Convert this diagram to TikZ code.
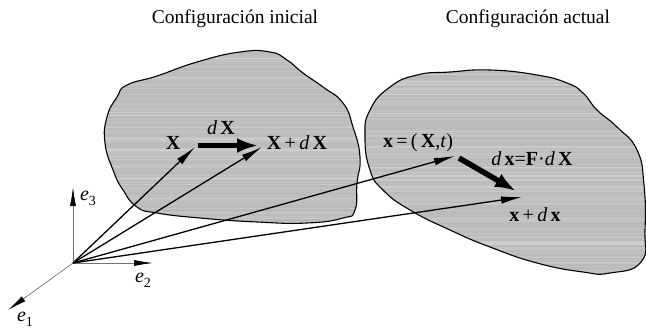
\documentclass[tikz,border=0pt]{standalone}
\usepackage{fontspec}
\setmainfont{Liberation Serif}
\usetikzlibrary{arrows.meta}

\newcommand{\idx}[1]{\raisebox{-0.55ex}{\fontsize{14}{14}\selectfont #1}}

\tikzset{
  lbl/.style={font=\fontsize{20}{23}\selectfont, inner sep=0pt},
  ttl/.style={font=\fontsize{19.5}{22}\selectfont, inner sep=0pt},
  axis/.style={black!55, line width=0.7pt, -{Latex[length=19pt,width=6pt,color=black]}},
  posvec/.style={line width=1.3pt, -{Latex[length=21pt,width=7.5pt]}},
  fatarrow/.style={line width=5.5pt, -{Latex[length=21pt,width=15pt]}},
  blob/.style={draw=black, line width=1.1pt},
}

% outlines of the two bodies
\def\blobinit{plot[smooth cycle, tension=0.85] coordinates {
  (240,52) (270,52) (287,60) (303,73) (323,87) (343,103) (353,127) (360,157)
  (357,183) (355,210) (343,218) (307,223) (257,222) (200,218) (157,213)
  (137,207) (123,190) (113,170) (105,143) (107,117) (117,97) (127,85)
  (157,76) (197,62)}}
\def\blobcurr{plot[smooth cycle, tension=0.85] coordinates {
  (417,75) (450,72) (490,70) (537,75) (567,83) (583,93) (597,110) (617,127)
  (637,150) (644,185) (645,230) (641,262) (610,273) (583,272) (537,263)
  (490,247) (450,230) (410,210) (383,190) (370,170) (365,137) (370,110)
  (390,87)}}

\begin{document}
\begin{tikzpicture}[x=1pt,y=-1pt]
    \useasboundingbox (0,0) rectangle (646,330);
    \pgfmathsetseed{11}

    % 1. Titles
    \node[ttl, anchor=base] (tinit) at (235,23) {Configuración inicial};
    \node[ttl, anchor=base] (tcurr) at (528,23) {Configuración actual};

    % 2. Bodies (grey fill with horizontal streaks)
    \fill[black!27] \blobinit;
    \fill[black!27] \blobcurr;
    \begin{scope}
        \clip \blobinit;
        \foreach \y in {50,51,...,226}{
            \pgfmathsetmacro\op{0.4*rnd*rnd}
            \draw[white, opacity=\op, line width=0.7pt] (100,\y) -- (366,\y);
        }
    \end{scope}
    \begin{scope}
        \clip \blobcurr;
        \foreach \y in {68,69,...,276}{
            \pgfmathsetmacro\op{0.4*rnd*rnd}
            \draw[white, opacity=\op, line width=0.7pt] (360,\y) -- (646,\y);
        }
    \end{scope}
    \draw[blob] \blobinit;
    \draw[blob] \blobcurr;

    % 3. Base vectors
    \coordinate (O) at (73,263);
    \coordinate (E1) at (8,310);
    \coordinate (E2) at (153,263);
    \coordinate (E3) at (73,187);
    \draw[axis] (O) -- (E1);
    \draw[axis] (O) -- (E2);
    \draw[axis] (O) -- (E3);
    \node[lbl] (le1) at (25,319) {\textit{e}\idx{1}};
    \node[lbl] (le2) at (143,280) {\textit{e}\idx{2}};
    \node[lbl] (le3) at (88,198) {\textit{e}\idx{3}};

    % 4. Position vectors
    \coordinate (P) at (195,147);
    \coordinate (Q) at (262,147);
    \coordinate (p) at (455,156);
    \coordinate (q) at (522,197);
    \draw[posvec] (O) -- (P);
    \draw[posvec] (O) -- (Q);
    \draw[posvec] (O) -- (p);
    \draw[posvec] (O) -- (q);

    % 5. Material and spatial line elements
    \coordinate (dXa) at (198,145.5);
    \coordinate (dXb) at (258,145.5);
    \coordinate (dxa) at (459,158);
    \coordinate (dxb) at (516,191);
    \draw[fatarrow] (dXa) -- (dXb);
    \draw[fatarrow] (dxa) -- (dxb);

    % 6. Labels
    \node[lbl] (lX) at (173,143) {\textbf{X}};
    \node[lbl] (ldX) at (221,128) {\textit{d}\,\textbf{X}};
    \node[lbl] (lXdX) at (297,143) {\textbf{X}\,+\,\textit{d}\,\textbf{X}};
    \node[lbl] (lx) at (418,143) {\textbf{x}\,=\,(\,\textbf{X},\textit{t})};
    \node[lbl] (ldx) at (532,159) {\textit{d}\,\textbf{x}=\textbf{F}·\textit{d}\,\textbf{X}};
    \node[lbl] (lxdx) at (535,215) {\textbf{x}\,+\,\textit{d}\,\textbf{x}};
\end{tikzpicture}
\end{document}
